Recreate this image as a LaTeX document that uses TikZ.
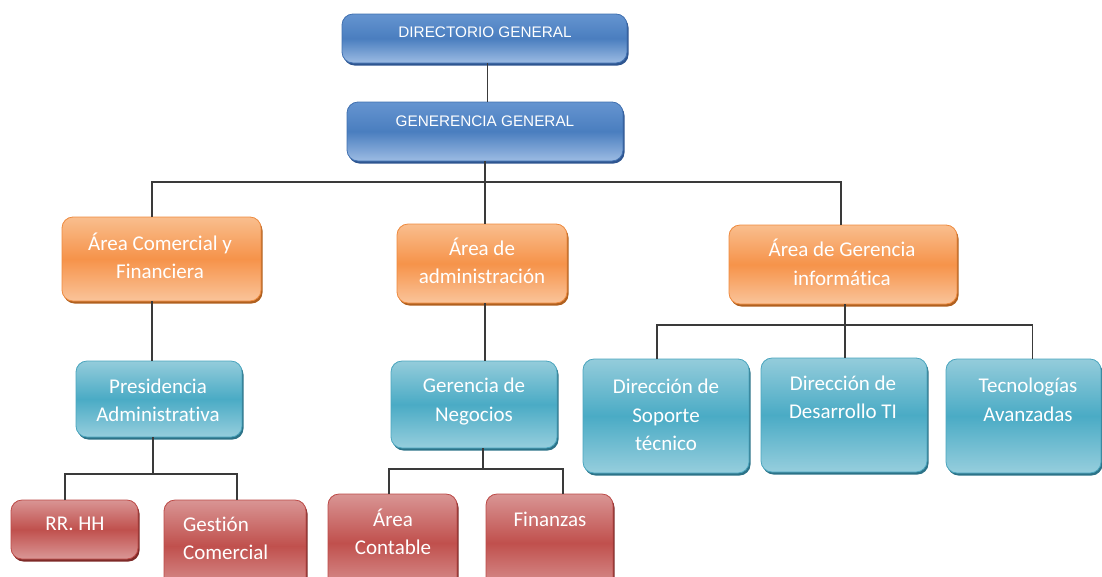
\documentclass[tikz,border=0pt]{standalone}
\usepackage{fontspec}
\setmainfont{Carlito}[Ligatures=NoCommon]
\newfontfamily\headfont{Liberation Sans}
\usetikzlibrary{shadows}

% palette
\definecolor{blueTop}{HTML}{6594D0}
\definecolor{blueMid}{HTML}{4A7EBF}
\definecolor{blueBot}{HTML}{9CBBE3}
\definecolor{blueEdge}{HTML}{4070B0}
\definecolor{blueShade}{HTML}{2E5590}
\definecolor{orTop}{HTML}{F9BE8E}
\definecolor{orMid}{HTML}{F6934A}
\definecolor{orBot}{HTML}{FAC49A}
\definecolor{orEdge}{HTML}{EE8A3E}
\definecolor{orShade}{HTML}{B0601F}
\definecolor{tlTop}{HTML}{94CCDB}
\definecolor{tlMid}{HTML}{4AABC5}
\definecolor{tlBot}{HTML}{96CEDD}
\definecolor{tlEdge}{HTML}{4AA5BE}
\definecolor{tlShade}{HTML}{2C7388}
\definecolor{rdTop}{HTML}{D99594}
\definecolor{rdMid}{HTML}{C0504D}
\definecolor{rdBot}{HTML}{DA9796}
\definecolor{rdEdge}{HTML}{BC4A47}
\definecolor{rdShade}{HTML}{7E2A28}
\definecolor{linkgray}{HTML}{3A3A3A}

% struts keeping every text line the same height
\newcommand{\ls}{\rule[-5pt]{0pt}{22pt}}
\newcommand{\hs}{\rule[-3pt]{0pt}{15pt}}

% a box given by its corners (x1,y1) and (x2,y2)
\newcommand{\orgbox}[6]{%
  \node[#1, minimum width={#5pt-#3pt}, minimum height={#6pt-#4pt}]
    (#2) at ({(#3+#5)/2},{(#4+#6)/2}) {};}

\tikzset{
  box/.style={rounded corners=11pt, inner sep=0pt, outer sep=0pt, line width=0.8pt},
  bluebox/.style={box, draw=blueEdge, top color=blueTop, bottom color=blueBot, middle color=blueMid,
    drop shadow={shadow xshift=1.5pt, shadow yshift=-2.5pt, fill=blueShade, opacity=1}},
  orangebox/.style={box, draw=orEdge, top color=orTop, bottom color=orBot, middle color=orMid,
    drop shadow={shadow xshift=1.5pt, shadow yshift=-2.5pt, fill=orShade, opacity=1}},
  tealbox/.style={box, draw=tlEdge, top color=tlTop, bottom color=tlBot, middle color=tlMid,
    drop shadow={shadow xshift=1.5pt, shadow yshift=-2.5pt, fill=tlShade, opacity=1}},
  redbox/.style={box, draw=rdEdge, top color=rdTop, bottom color=rdBot, middle color=rdMid,
    drop shadow={shadow xshift=1.5pt, shadow yshift=-2.5pt, fill=rdShade, opacity=1}},
  link/.style={draw=linkgray, line width=1.5pt},
  cal/.style={text=white, align=center, font=\fontsize{21}{28.5}\selectfont, inner sep=0pt},
  hd/.style={text=white, font=\headfont\fontsize{15.3}{18}\selectfont, inner sep=0pt},
}

\begin{document}
\begin{tikzpicture}[x=1pt, y=-1pt]
\useasboundingbox (0,0) rectangle (1102,576);
\clip (0,0) rectangle (1102,576);

% top management
\orgbox{bluebox}{dg}{342}{14}{627}{63}
\orgbox{bluebox}{gg}{347}{102}{623}{161}

% areas
\orgbox{orangebox}{acf}{62}{217}{261}{301}
\orgbox{orangebox}{aad}{397}{224}{567}{303}
\orgbox{orangebox}{agi}{729}{225}{957}{304}

% departments
\orgbox{tealbox}{pa}{76}{361}{242}{437}
\orgbox{tealbox}{gn}{391}{361}{557}{448}
\orgbox{tealbox}{dst}{583}{359}{749}{473}
\orgbox{tealbox}{ddt}{761}{358}{927}{472}
\orgbox{tealbox}{ta}{946}{359}{1101}{473}

% units
\orgbox{redbox}{rrhh}{11}{500}{138}{559}
\orgbox{redbox}{gc}{164}{500}{306}{592}
\orgbox{redbox}{ac}{328}{494}{457}{592}
\orgbox{redbox}{fz}{486}{494}{613}{592}

% labels
\node[hd] (dg-t) at (485,33) {\hs DIRECTORIO GENERAL};
\node[hd] (gg-t) at (485,122) {\hs GENERENCIA GENERAL};

\node[cal] (acf-t) at (160,258) {\ls Área Comercial y\\\ls Financiera};
\node[cal] (aad-t) at (482,263) {\ls Área de\\\ls administración};
\node[cal] (agi-t) at (842,264.5) {\ls Área de Gerencia\\\ls informática};

\node[cal] (pa-t) at (158,401.5) {\ls Presidencia\\\ls Administrativa};
\node[cal] (gn-t) at (474,401) {\ls Gerencia de\\\ls Negocios};
\node[cal] (dst-t) at (666,416) {\ls Dirección de\\\ls Soporte\\\ls técnico};
\node[cal] (ddt-t) at (843,398.5) {\ls Dirección de\\\ls Desarrollo TI};
\node[cal] (ta-t) at (1028,401) {\ls Tecnologías\\\ls Avanzadas};

\node[cal] (rrhh-t) at (75,524) {\ls RR. HH};
\node[cal, align=left, anchor=west] (gc-t) at (183,539.5) {\ls Gestión\\\ls Comercial};
\node[cal] (ac-t) at (393,534) {\ls Área\\\ls Contable};
\node[cal] (fz-t) at (550,520) {\ls Finanzas};

% connectors
\draw[link] ([xshift=3pt]dg.south) -- ([xshift=3pt]dg.south |- gg.north);
\draw[link] (gg.south) -- ++(0,21) coordinate (busA);
\draw[link] ([xshift=-9.5pt]acf.north) |- (busA) -| ([xshift=-2pt]agi.north);
\draw[link] (busA) -- (busA |- aad.north);

\draw[link] ([xshift=-9.5pt]acf.south) -- ([xshift=-9.5pt]acf.south |- pa.north);
\draw[link] ([xshift=-6pt]pa.south) -- ++(0,37) coordinate (busB);
\draw[link] ([xshift=-9.5pt]rrhh.north) |- (busB) -| ([xshift=2pt]gc.north);

\draw[link] (busA |- aad.south) -- (busA |- gn.north);
\draw[link] ([xshift=9pt]gn.south) -- ++(0,21) coordinate (busC);
\draw[link] ([xshift=-3.5pt]ac.north) |- (busC) -| ([xshift=13.5pt]fz.north);

\draw[link] ([xshift=2pt]agi.south) -- ++(0,21) coordinate (busD);
\draw[link] ([xshift=-9pt]dst.north) |- (busD) -| ([xshift=9pt]ta.north);
\draw[link] (busD) -- (busD |- ddt.north);
\end{tikzpicture}
\end{document}
